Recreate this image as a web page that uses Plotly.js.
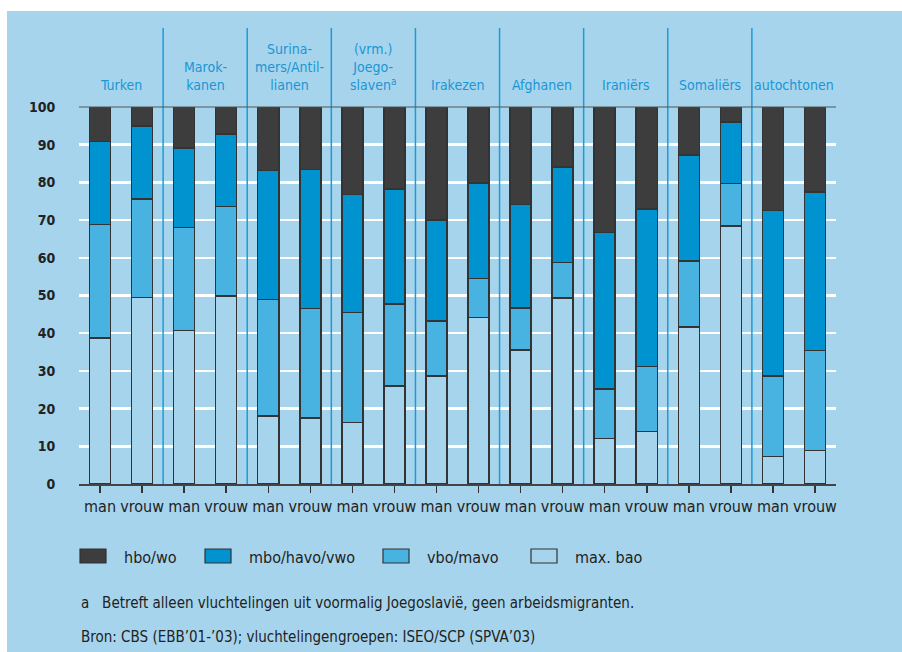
<!DOCTYPE html>
<html><head><meta charset="utf-8">
<script src="https://cdn.plot.ly/plotly-3.0.1.min.js"></script>
<style>html,body{margin:0;padding:0;background:#fff;}</style>
</head><body>
<div id="chart" style="width:902px;height:652px;"></div>
<script>
// ---- data ----
const groups = ["Turken", "Marok-<br>kanen", "Surina-<br>mers/Antil-<br>lianen", "(vrm.)<br>Joego-<br>slaven<sup>a</sup>", "Irakezen", "Afghanen", "Iraniërs", "Somaliërs", "autochtonen"];
const sexes = ["man", "vrouw"];
const seriesNames = ["max. bao", "vbo/mavo", "mbo/havo/vwo", "hbo/wo"];
const maxBao  = [38.7, 49.5, 40.7, 49.9, 18.0, 17.5, 16.3, 26.0, 28.6, 44.2, 35.6, 49.3, 12.1, 13.9, 41.6, 68.4, 7.3, 8.9];
const vboMavo = [30.1, 26.1, 27.3, 23.7, 31.0, 29.1, 29.2, 21.8, 14.7, 10.3, 11.1, 9.4, 13.1, 17.3, 17.5, 11.3, 21.4, 26.5];
const mboHavo = [22.0, 19.4, 21.1, 19.3, 34.1, 36.8, 31.3, 30.5, 26.7, 25.3, 27.5, 25.4, 41.5, 41.8, 28.2, 16.3, 43.9, 42.0];
const hboWo   = [9.2, 5.0, 10.9, 7.1, 16.9, 16.6, 23.2, 21.7, 30.0, 20.2, 25.8, 15.9, 33.3, 27.0, 12.7, 4.0, 27.4, 22.6];
const yTicks = [0,10,20,30,40,50,60,70,80,90,100];
const footnote = "a   Betreft alleen vluchtelingen uit voormalig Joegoslavië, geen arbeidsmigranten.";
const source = "Bron: CBS (EBB’01-’03); vluchtelingengroepen: ISEO/SCP (SPVA’03)";

// ---- styling ----
const colors = ["#a6d4ed", "#48b3e1", "#0093cf", "#3d3d3d"];
const FONT = "'Liberation Sans Narrow', 'DejaVu Sans Condensed', 'Roboto', sans-serif";
const W = 902, H = 652, L = 79, R = 836, T = 107, B = 484;
const px = x => (x - L) / (R - L);
const py = y => (B - y) / (B - T);

const xIdx = [];
const xText = [];
groups.forEach((g, gi) => sexes.forEach((s, si) => { xIdx.push(gi * 2 + si); xText.push(s); }));

const seriesVals = [maxBao, vboMavo, mboHavo, hboWo];
const traces = seriesVals.map((vals, i) => ({
  type: 'bar', x: xIdx, y: vals, name: seriesNames[i], width: 0.5,
  marker: {color: colors[i], line: {color: '#333333', width: 1.5}},
  showlegend: false, hoverinfo: 'skip'
}));

const shapes = [];
// panel background
shapes.push({type:'rect', xref:'paper', yref:'paper', x0: px(7), x1: px(W), y0: py(11), y1: py(H), fillcolor:'#a6d4ed', line:{width:0}, layer:'below'});
// group separators
for (let g = 1; g < groups.length; g++) {
  shapes.push({type:'line', xref:'x', yref:'paper', x0: g*2-0.5, x1: g*2-0.5, y0: 0, y1: py(28), line:{color:'#1e9bd7', width:1.5}, layer:'above'});
}
// top frame line
shapes.push({type:'line', xref:'paper', yref:'paper', x0:0, x1:1, y0:1, y1:1, line:{color:'#555555', width:1}});

const annotations = [];
groups.forEach((g, gi) => {
  annotations.push({xref:'x', yref:'paper', x: gi*2+0.5, y: py(95), yanchor:'bottom', xanchor:'center', text: g, showarrow:false, align:'center', font:{family:FONT, size:14, color:'#1a96d4'}});
});
// legend (built from series arrays)
const legX = [80, 205, 383, 531];
const legOrder = [3, 2, 1, 0];
legOrder.forEach((si, k) => {
  shapes.push({type:'rect', xref:'paper', yref:'paper', x0: px(legX[k]), x1: px(legX[k]+26), y0: py(563), y1: py(549), fillcolor: colors[si], line:{color:'#333333', width:1.2}});
  annotations.push({xref:'paper', yref:'paper', x: px(legX[k]+42), y: py(557), xanchor:'left', yanchor:'middle', text: seriesNames[si], showarrow:false, font:{family:FONT, size:16, color:'#222222'}});
});
annotations.push({xref:'paper', yref:'paper', x: px(79), y: py(603), xanchor:'left', yanchor:'middle', text: footnote, showarrow:false, font:{family:FONT, size:15, color:'#222222'}});
annotations.push({xref:'paper', yref:'paper', x: px(79), y: py(637), xanchor:'left', yanchor:'middle', text: source, showarrow:false, font:{family:FONT, size:15, color:'#222222'}});

const layout = {
  width: W, height: H,
  margin: {l: L, r: W - R, t: T, b: H - B, pad: 0},
  paper_bgcolor: '#ffffff', plot_bgcolor: '#d3e9f6',
  barmode: 'stack', bargap: 0,
  showlegend: false,
  xaxis: {range: [-0.5, 17.5], tickvals: xIdx, ticktext: xText, ticks: 'outside', ticklen: 7, tickwidth: 1.5, tickcolor: '#333333',
          showgrid: false, zeroline: false, showline: true, linecolor: '#444444', linewidth: 2,
          tickfont: {family: FONT, size: 16, color: '#222222'}, fixedrange: true},
  yaxis: {range: [0, 100], tickvals: yTicks, ticks: 'outside', ticklen: 20, tickcolor: 'rgba(0,0,0,0)',
          showgrid: true, gridcolor: '#ffffff', gridwidth: 2.5, zeroline: false, showline: false,
          tickfont: {family: FONT, size: 14, color: '#222222', weight: 'bold'}, fixedrange: true},
  shapes: shapes, annotations: annotations,
  font: {family: FONT}
};
Plotly.newPlot('chart', traces, layout, {displayModeBar: false, staticPlot: true});
</script>
</body></html>
